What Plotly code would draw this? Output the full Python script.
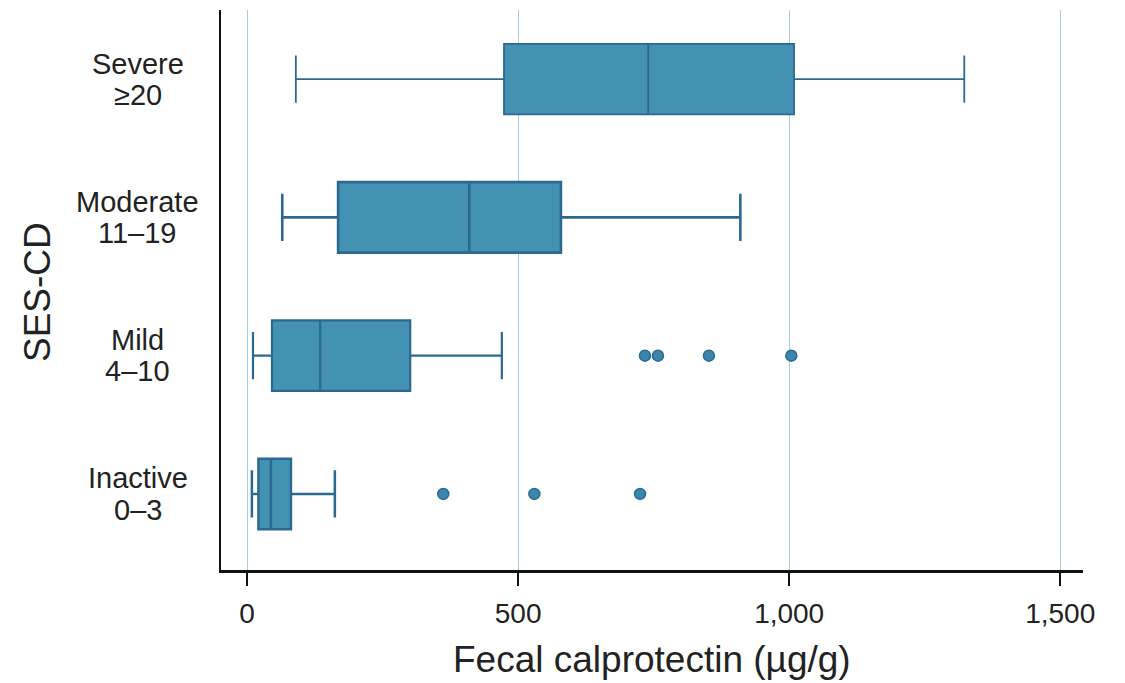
import plotly.graph_objects as go

# SES-CD groups, bottom to top
groups = ["Inactive", "Mild", "Moderate", "Severe"]
ranges = ["0\u20133", "4\u201310", "11\u201319", "\u226520"]

# Box statistics of fecal calprotectin (µg/g) per group
lower = [9, 11, 65, 90]
q1 = [21, 46, 168, 474]
median = [44, 135, 410, 740]
q3 = [81, 301, 579, 1009]
upper = [162, 470, 910, 1323]
line_widths = [2.5, 2.2, 2.6, 1.8]

# Outlying observations per group
outliers = {
    "Inactive": [362, 530, 725],
    "Mild": [734, 758, 852, 1004],
}

x_ticks = [0, 500, 1000, 1500]
x_tick_text = ["0", "500", "1,000", "1,500"]

FILL = "#4391b3"
EDGE = "#2c6990"
GRID = "#a3cde4"
FONT = "Liberation Sans, Arial, sans-serif"

fig = go.Figure()

for i, g in enumerate(groups):
    fig.add_trace(go.Box(
        orientation="h",
        y=[i],
        q1=[q1[i]], median=[median[i]], q3=[q3[i]],
        lowerfence=[lower[i]], upperfence=[upper[i]],
        width=0.51,
        whiskerwidth=0.67,
        fillcolor=FILL,
        line=dict(color=EDGE, width=line_widths[i]),
        boxpoints=False,
        showlegend=False,
        hoverinfo="skip",
    ))

for g, vals in outliers.items():
    idx = groups.index(g)
    fig.add_trace(go.Scatter(
        x=vals, y=[idx] * len(vals),
        mode="markers",
        marker=dict(size=11, color="#3b86ad", line=dict(color=EDGE, width=1.5)),
        showlegend=False,
        hoverinfo="skip",
    ))

# Two-line group labels, centred left of the axis
label_x = (137.5 - 221) / 862
for i, (g, r) in enumerate(zip(groups, ranges)):
    for text, dy in ((g, 0.113), (r, -0.113)):
        fig.add_annotation(
            x=label_x, xref="paper", y=i + dy, yref="y",
            text=text, showarrow=False,
            xanchor="center", yanchor="middle",
            font=dict(family=FONT, size=29, color="#222222"),
        )

# Axis titles
fig.add_annotation(
    x=0.5, xref="paper", y=(570 - 659) / 560, yref="paper",
    text="Fecal calprotectin (\u00b5g/g)", showarrow=False,
    xanchor="center", yanchor="middle",
    font=dict(family=FONT, size=37, color="#222222"),
)
fig.add_annotation(
    x=(37 - 221) / 862, xref="paper", y=(570 - 292) / 560, yref="paper",
    text="SES-CD", showarrow=False, textangle=-90,
    xanchor="center", yanchor="middle",
    font=dict(family=FONT, size=37, color="#222222"),
)

fig.update_layout(
    width=1125, height=683,
    margin=dict(l=221, r=42, t=10, b=113),
    paper_bgcolor="white", plot_bgcolor="white",
    showlegend=False,
)
fig.update_xaxes(
    range=[-48, 1542],
    tickvals=x_ticks, ticktext=x_tick_text,
    showgrid=True, gridcolor=GRID, gridwidth=1.3,
    zeroline=False,
    showline=True, linecolor="#111111", linewidth=3,
    ticks="outside", ticklen=13, tickwidth=2, tickcolor="#111111",
    ticklabelstandoff=3,
    tickfont=dict(family=FONT, size=28, color="#222222"),
)
fig.update_yaxes(
    range=[-0.55, 3.5],
    showgrid=False, zeroline=False,
    showticklabels=False, ticks="",
    showline=True, linecolor="#111111", linewidth=2,
)

fig.write_html("out.html")
